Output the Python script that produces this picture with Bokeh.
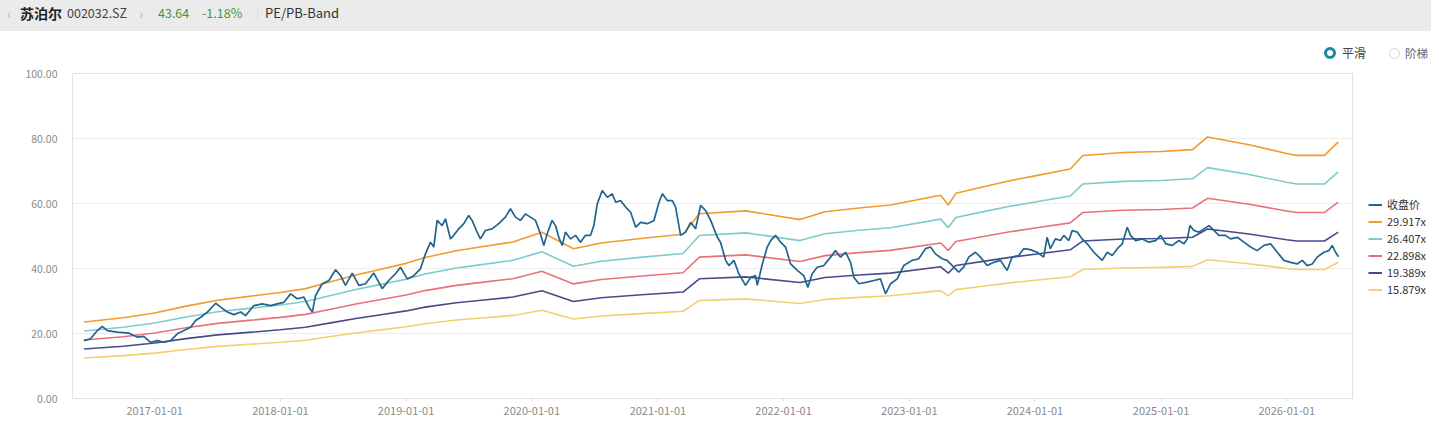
import numpy as np
import pandas as pd
from bokeh.plotting import figure
from bokeh.models import (Range1d, FixedTicker, DatetimeTickFormatter, NumeralTickFormatter,
                          Legend, LegendItem, Div, ColumnDataSource)
from bokeh.layouts import column, row
from bokeh.embed import file_html
from bokeh.resources import INLINE

# ---------------- data ----------------
stock_name = "苏泊尔"
stock_code = "002032.SZ"
last_price = "43.64"
change_pct = "-1.18%"
page_title = "PE/PB-Band"
mode_options = ["平滑", "阶梯"]

y_ticks = [0, 20, 40, 60, 80, 100]
x_tick_labels = ["2017-01-01", "2018-01-01", "2019-01-01", "2020-01-01", "2021-01-01",
                 "2022-01-01", "2023-01-01", "2024-01-01", "2025-01-01", "2026-01-01"]

series_names = ["收盘价", "29.917x", "26.407x", "22.898x", "19.389x", "15.879x"]
pe_multiples = [29.917, 26.407, 22.898, 19.389, 15.879]

# close price (date as decimal year)
price_year = [
    2016.438, 2016.491, 2016.545, 2016.584, 2016.624, 2016.703, 2016.796, 2016.862, 2016.913, 2016.968,
    2017.021, 2017.074, 2017.127, 2017.180, 2017.233, 2017.286, 2017.326, 2017.366, 2017.419, 2017.485,
    2017.525, 2017.578, 2017.630, 2017.684, 2017.723, 2017.789, 2017.856, 2017.922, 2017.975, 2018.028,
    2018.081, 2018.134, 2018.187, 2018.227, 2018.254, 2018.280, 2018.333, 2018.386, 2018.439, 2018.479,
    2018.518, 2018.572, 2018.624, 2018.677, 2018.743, 2018.810, 2018.862, 2018.916, 2018.955, 2019.009,
    2019.061, 2019.114, 2019.154, 2019.194, 2019.220, 2019.247, 2019.287, 2019.313, 2019.353, 2019.379,
    2019.419, 2019.459, 2019.498, 2019.525, 2019.565, 2019.591, 2019.631, 2019.684, 2019.737, 2019.790,
    2019.830, 2019.870, 2019.909, 2019.949, 2019.989, 2020.029, 2020.068, 2020.095, 2020.122, 2020.161,
    2020.188, 2020.214, 2020.241, 2020.267, 2020.307, 2020.347, 2020.386, 2020.426, 2020.466, 2020.492,
    2020.519, 2020.559, 2020.599, 2020.638, 2020.665, 2020.704, 2020.744, 2020.784, 2020.824, 2020.863,
    2020.917, 2020.969, 2021.009, 2021.036, 2021.075, 2021.115, 2021.141, 2021.181, 2021.221, 2021.261,
    2021.300, 2021.340, 2021.380, 2021.420, 2021.473, 2021.499, 2021.539, 2021.565, 2021.605, 2021.644,
    2021.698, 2021.738, 2021.777, 2021.791, 2021.831, 2021.870, 2021.897, 2021.936, 2021.976, 2022.016,
    2022.056, 2022.109, 2022.161, 2022.193, 2022.228, 2022.268, 2022.320, 2022.374, 2022.413, 2022.453,
    2022.493, 2022.533, 2022.559, 2022.599, 2022.665, 2022.718, 2022.771, 2022.811, 2022.851, 2022.904,
    2022.956, 2023.023, 2023.075, 2023.129, 2023.169, 2023.208, 2023.261, 2023.301, 2023.354, 2023.393,
    2023.433, 2023.473, 2023.526, 2023.566, 2023.619, 2023.672, 2023.725, 2023.778, 2023.818, 2023.870,
    2023.910, 2023.963, 2024.017, 2024.069, 2024.096, 2024.122, 2024.162, 2024.202, 2024.228, 2024.268,
    2024.295, 2024.335, 2024.374, 2024.414, 2024.467, 2024.506, 2024.533, 2024.573, 2024.613, 2024.653,
    2024.692, 2024.732, 2024.758, 2024.798, 2024.851, 2024.904, 2024.957, 2024.997, 2025.037, 2025.090,
    2025.142, 2025.182, 2025.209, 2025.230, 2025.262, 2025.301, 2025.341, 2025.381, 2025.421, 2025.460,
    2025.513, 2025.553, 2025.607, 2025.659, 2025.712, 2025.765, 2025.818, 2025.871, 2025.925, 2025.977,
    2026.030, 2026.083, 2026.123, 2026.163, 2026.203, 2026.242, 2026.295, 2026.335, 2026.362, 2026.388, 2026.412,
]
price_close = [
    17.8, 18.4, 20.9, 22.2, 20.9, 20.4, 20.1, 18.9, 19.1, 17.3,
    17.8, 17.3, 17.8, 19.9, 20.9, 21.9, 24.0, 25.0, 26.6, 29.3,
    28.1, 26.6, 25.8, 26.6, 25.5, 28.6, 29.1, 28.6, 29.1, 29.6,
    32.2, 30.7, 31.2, 28.1, 26.6, 31.7, 35.3, 36.3, 39.6, 37.8,
    34.8, 38.6, 34.8, 35.3, 38.6, 33.8, 36.3, 38.4, 40.4, 36.8,
    37.8, 39.9, 44.5, 48.1, 46.6, 54.8, 53.2, 55.3, 49.1, 50.2,
    52.2, 53.8, 56.3, 54.8, 51.2, 49.1, 51.7, 52.2, 53.8, 55.8,
    58.4, 55.8, 54.8, 56.8, 55.8, 54.8, 50.7, 47.1, 50.7, 54.8,
    53.2, 49.6, 47.1, 51.2, 49.1, 50.2, 48.1, 50.2, 50.2, 53.2,
    59.9, 64.0, 61.9, 63.0, 60.4, 60.9, 58.9, 57.3, 52.7, 54.2,
    53.8, 54.8, 60.4, 63.0, 60.9, 60.9, 58.9, 50.2, 51.2, 54.2,
    52.2, 59.4, 57.8, 54.8, 49.6, 48.0, 42.5, 40.9, 42.5, 38.4,
    34.8, 37.3, 37.8, 34.8, 41.4, 46.6, 48.6, 50.2, 48.1, 46.6,
    41.4, 39.4, 37.8, 34.2, 38.4, 40.4, 40.9, 43.5, 45.5, 43.5,
    45.0, 41.9, 37.3, 35.3, 35.8, 36.3, 36.8, 32.2, 35.3, 36.8,
    40.9, 42.5, 43.0, 46.1, 46.6, 44.5, 43.0, 42.5, 40.4, 38.9,
    40.4, 43.5, 45.0, 43.5, 40.9, 41.9, 42.5, 39.4, 43.5, 44.0,
    46.1, 45.8, 45.0, 43.5, 49.6, 46.1, 49.1, 48.6, 50.2, 48.6,
    51.7, 51.2, 49.1, 47.6, 45.0, 43.5, 42.5, 45.0, 44.0, 46.1,
    47.6, 52.7, 50.2, 48.6, 49.1, 48.1, 48.6, 50.2, 47.6, 47.1,
    48.6, 47.6, 49.1, 53.2, 51.7, 51.2, 52.2, 53.2, 51.7, 50.2,
    50.2, 49.1, 49.6, 48.1, 46.6, 45.5, 47.1, 47.6, 45.0, 42.5,
    41.9, 41.4, 42.5, 40.9, 41.4, 43.5, 45.0, 45.5, 47.1, 45.0, 43.6,
]

# trailing EPS behind the PE bands (date as decimal year)
eps_year = [2016.44, 2016.75, 2017.00, 2017.25, 2017.50, 2017.75, 2018.00, 2018.20, 2018.40, 2018.60,
            2018.80, 2019.00, 2019.15, 2019.40, 2019.60, 2019.85, 2020.08, 2020.33, 2020.55, 2020.90,
            2021.20, 2021.33, 2021.70, 2022.13, 2022.33, 2022.60, 2022.85, 2023.25, 2023.31, 2023.37,
            2023.60, 2023.80, 2024.00, 2024.28, 2024.38, 2024.70, 2025.00, 2025.25, 2025.37, 2025.70,
            2026.00, 2026.08, 2026.30, 2026.41]
eps_ttm = [0.786, 0.83, 0.88, 0.95, 1.01, 1.05, 1.09, 1.13, 1.20, 1.27,
           1.33, 1.39, 1.45, 1.52, 1.56, 1.61, 1.71, 1.54, 1.60, 1.65,
           1.69, 1.90, 1.93, 1.84, 1.92, 1.96, 1.99, 2.09, 1.99, 2.11,
           2.18, 2.24, 2.29, 2.36, 2.50, 2.53, 2.54, 2.56, 2.69, 2.61,
           2.52, 2.50, 2.50, 2.64]

# ---------------- styling ----------------
price_color = "#22648e"
band_colors = ["#f39a2e", "#7ccccb", "#e8717a", "#464b8c", "#f2d070"]
FONT = "Noto Sans CJK SC"


def to_dt(y):
    yr = int(np.floor(y))
    a = pd.Timestamp(yr, 1, 1)
    b = pd.Timestamp(yr + 1, 1, 1)
    return a + (b - a) * (y - yr)


price_dt = [to_dt(v) for v in price_year]
eps_dt = [to_dt(v) for v in eps_year]

W, H_TOP, H_FIG = 1431, 65, 358
W_MAIN = 1353
W_LEG = W - W_MAIN

p = figure(width=W_MAIN, height=H_FIG, x_axis_type="datetime", output_backend="svg",
           toolbar_location=None,
           x_range=Range1d(to_dt(2016.348), to_dt(2026.523)), y_range=Range1d(0, 100),
           min_border_left=72, min_border_right=1, min_border_top=8, min_border_bottom=25)
p.background_fill_color = "white"
p.border_fill_color = "white"
p.outline_line_color = "#e2e2e2"

band_src = ColumnDataSource(dict(x=eps_dt, **{f"b{i}": [m * e for e in eps_ttm]
                                             for i, m in enumerate(pe_multiples)}))
for i, c in enumerate(band_colors):
    p.line("x", f"b{i}", source=band_src, line_color=c, line_width=1.6)

price_src = ColumnDataSource(dict(x=price_dt, y=price_close))
p.line("x", "y", source=price_src, line_color=price_color, line_width=1.7)

# axes
tick_ms = [pd.Timestamp(s).value / 1e6 for s in x_tick_labels]
p.xaxis.ticker = FixedTicker(ticks=tick_ms)
fmt = "%Y-%m-%d"
p.xaxis.formatter = DatetimeTickFormatter(years=fmt, months=fmt, days=fmt, hours=fmt,
                                          minutes=fmt, seconds=fmt, milliseconds=fmt,
                                          microseconds=fmt, minsec=fmt, hourmin=fmt)
p.yaxis.ticker = FixedTicker(ticks=y_ticks)
p.yaxis.formatter = NumeralTickFormatter(format="0.00")

for ax in (p.xaxis[0], p.yaxis[0]):
    ax.axis_line_color = "#e2e2e2"
    ax.major_tick_line_color = "#dddddd"
    ax.minor_tick_line_color = None
    ax.major_label_text_font = FONT
    ax.major_label_text_color = "#8a8a8a"
p.xaxis.major_label_text_font_size = "11px"
p.yaxis.major_label_text_font_size = "10.5px"
p.yaxis.major_tick_out = 0
p.yaxis.major_tick_in = 0
p.yaxis.major_label_standoff = 15
p.xaxis.major_tick_out = 3
p.xaxis.major_tick_in = 0
p.xaxis.major_label_standoff = 5

p.xgrid.grid_line_color = None
p.ygrid.grid_line_color = "#ececec"

# legend column to the right of the plot (swatch lines kept outside its visible range)
pl = figure(width=W_LEG, height=H_FIG, output_backend="svg", toolbar_location=None,
            x_axis_location=None, y_axis_location=None,
            x_range=Range1d(0, 1), y_range=Range1d(0, 1),
            min_border_left=0, min_border_right=0, min_border_top=0, min_border_bottom=0)
pl.outline_line_color = None
pl.xgrid.grid_line_color = None
pl.ygrid.grid_line_color = None
pl.background_fill_color = "white"
pl.border_fill_color = "white"
leg_colors = [price_color] + band_colors
items = []
for name, c in zip(series_names, leg_colors):
    r = pl.line(x=[0, 1], y=[-5, -5], line_color=c, line_width=2)
    items.append(LegendItem(label=name, renderers=[r]))
legend = Legend(items=items, location=(15, 101), margin=0, padding=0,
                border_line_color=None, background_fill_alpha=0,
                glyph_width=14, glyph_height=13, label_height=13, spacing=1,
                label_standoff=5, label_text_font=FONT, label_text_font_size="11px",
                label_text_color="#333333")
pl.add_layout(legend, "center")

# header bar + smooth/step switch
span = "position:absolute;line-height:14px;white-space:nowrap;"
top_html = (
    f'<div style="position:relative;width:{W}px;height:{H_TOP}px;background:#ffffff;'
    f'font-family:\'{FONT}\';">'
    f'<div style="position:absolute;left:0px;top:0px;width:{W}px;height:31px;background:#ebebeb;"></div>'
    f'<span style="{span}top:6px;left:7px;font-size:14px;color:#b5b5b5;">‹</span>'
    f'<span style="{span}top:6px;left:20px;font-size:14px;font-weight:bold;color:#222;">{stock_name}</span>'
    f'<span style="{span}top:6px;left:67px;font-size:12.5px;color:#444;">{stock_code}</span>'
    f'<span style="{span}top:6px;left:139px;font-size:14px;color:#b5b5b5;">›</span>'
    f'<span style="{span}top:6px;left:158px;font-size:12.5px;color:#3d9a3d;">{last_price}</span>'
    f'<span style="{span}top:6px;left:202px;font-size:12.5px;color:#3d9a3d;">{change_pct}</span>'
    f'<span style="{span}top:6px;left:256px;font-size:12px;color:#d8d8d8;">|</span>'
    f'<span style="{span}top:6px;left:265px;font-size:13px;color:#333;">{page_title}</span>'
    f'<span style="position:absolute;box-sizing:border-box;left:1324px;top:47px;width:12px;height:12px;'
    f'border:3px solid #1d86a3;border-radius:50%;background:#fff;"></span>'
    f'<span style="{span}top:46px;left:1342px;font-size:12px;color:#444;">{mode_options[0]}</span>'
    f'<span style="position:absolute;box-sizing:border-box;left:1389px;top:48px;width:11px;height:11px;'
    f'border:1px solid #d5d5d5;border-radius:50%;background:#fff;"></span>'
    f'<span style="{span}top:46px;left:1405px;font-size:11.5px;color:#666;">{mode_options[1]}</span>'
    '</div>'
)
top = Div(text=top_html, width=W, height=H_TOP, margin=(0, 0, 0, 0))

layout = column(top, row(p, pl, spacing=0), spacing=0)
open("out.html", "w").write(file_html(layout, INLINE))
